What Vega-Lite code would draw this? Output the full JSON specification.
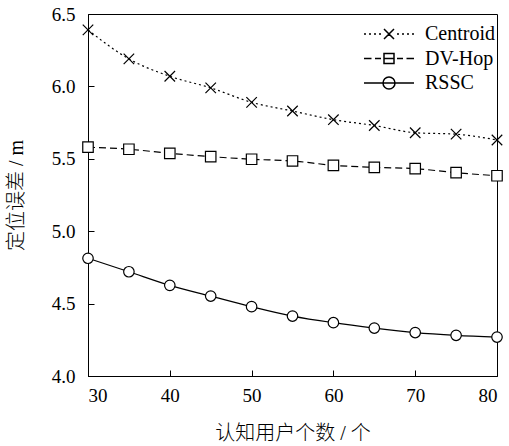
{
  "$schema": "https://vega.github.io/schema/vega-lite/v6.json",
  "autosize": {"type": "none"},
  "width": 409,
  "height": 362,
  "padding": {"left": 88, "top": 14, "right": 12, "bottom": 70},
  "background": "white",
  "config": {
    "view": {"stroke": "black", "strokeWidth": 1},
    "legend": {
      "labelFont": "Liberation Serif, Times New Roman, serif",
      "labelFontSize": 20,
      "labelColor": "black"
    }
  },
  "data": {
    "values": [
      {"n": 30, "method": "Centroid", "err": 6.39},
      {"n": 35, "method": "Centroid", "err": 6.19},
      {"n": 40, "method": "Centroid", "err": 6.07},
      {"n": 45, "method": "Centroid", "err": 5.99},
      {"n": 50, "method": "Centroid", "err": 5.89},
      {"n": 55, "method": "Centroid", "err": 5.83},
      {"n": 60, "method": "Centroid", "err": 5.77},
      {"n": 65, "method": "Centroid", "err": 5.73},
      {"n": 70, "method": "Centroid", "err": 5.68},
      {"n": 75, "method": "Centroid", "err": 5.67},
      {"n": 80, "method": "Centroid", "err": 5.63},
      {"n": 30, "method": "DV-Hop", "err": 5.58},
      {"n": 35, "method": "DV-Hop", "err": 5.566},
      {"n": 40, "method": "DV-Hop", "err": 5.538},
      {"n": 45, "method": "DV-Hop", "err": 5.515},
      {"n": 50, "method": "DV-Hop", "err": 5.497},
      {"n": 55, "method": "DV-Hop", "err": 5.485},
      {"n": 60, "method": "DV-Hop", "err": 5.455},
      {"n": 65, "method": "DV-Hop", "err": 5.441},
      {"n": 70, "method": "DV-Hop", "err": 5.432},
      {"n": 75, "method": "DV-Hop", "err": 5.404},
      {"n": 80, "method": "DV-Hop", "err": 5.383},
      {"n": 30, "method": "RSSC", "err": 4.813},
      {"n": 35, "method": "RSSC", "err": 4.72},
      {"n": 40, "method": "RSSC", "err": 4.626},
      {"n": 45, "method": "RSSC", "err": 4.552},
      {"n": 50, "method": "RSSC", "err": 4.479},
      {"n": 55, "method": "RSSC", "err": 4.414},
      {"n": 60, "method": "RSSC", "err": 4.368},
      {"n": 65, "method": "RSSC", "err": 4.331},
      {"n": 70, "method": "RSSC", "err": 4.30},
      {"n": 75, "method": "RSSC", "err": 4.281},
      {"n": 80, "method": "RSSC", "err": 4.269}
    ]
  },
  "encoding": {
    "x": {
      "field": "n",
      "type": "quantitative",
      "scale": {"domain": [30, 80], "nice": false, "zero": false},
      "axis": {
        "values": [30, 40, 50, 60, 70, 80],
        "grid": false,
        "domainColor": "black",
        "tickColor": "black",
        "tickSize": -6,
        "labelFont": "Liberation Serif",
        "labelFontSize": 19,
        "labelColor": "black",
        "labelPadding": 16,
        "title": "认知用户个数 / 个",
        "titleFont": "Liberation Serif, Noto Sans CJK SC",
        "titleFontSize": 20,
        "titleFontWeight": 300,
        "titleColor": "black",
        "titleX": 204.5,
        "titleY": 57,
        "titleBaseline": "middle",
        "titleAnchor": "middle"
      }
    },
    "y": {
      "field": "err",
      "type": "quantitative",
      "scale": {"domain": [4, 6.5], "nice": false, "zero": false},
      "axis": {
        "values": [4, 4.5, 5, 5.5, 6, 6.5],
        "format": ".1f",
        "grid": false,
        "domainColor": "black",
        "tickColor": "black",
        "tickSize": -6,
        "labelFont": "Liberation Serif",
        "labelFontSize": 19,
        "labelColor": "black",
        "labelPadding": 19,
        "title": "定位误差 / m",
        "titleFont": "Liberation Serif, Noto Sans CJK SC",
        "titleFontSize": 20,
        "titleFontWeight": 300,
        "titleColor": "black",
        "titleX": -72,
        "titleY": 181,
        "titleAngle": -90,
        "titleAlign": "center",
        "titleBaseline": "middle"
      }
    }
  },
  "resolve": {"scale": {"shape": "independent"}, "legend": {"shape": "independent"}},
  "layer": [
    {
      "transform": [{"filter": "datum.method === 'Centroid'"}],
      "mark": {"type": "line", "interpolate": "monotone", "color": "black", "strokeWidth": 1.2, "strokeDash": [2, 3]},
      "encoding": {}
    },
    {
      "transform": [{"filter": "datum.method === 'DV-Hop'"}],
      "mark": {"type": "line", "interpolate": "monotone", "color": "black", "strokeWidth": 1.2, "strokeDash": [7, 4]},
      "encoding": {}
    },
    {
      "transform": [{"filter": "datum.method === 'RSSC'"}],
      "mark": {"type": "line", "interpolate": "monotone", "color": "black", "strokeWidth": 1.2},
      "encoding": {}
    },
    {
      "mark": {"type": "point", "filled": true, "fill": "white", "stroke": "black", "strokeWidth": 1.2, "size": 110, "opacity": 1},
      "encoding": {
        "shape": {
          "field": "method",
          "type": "nominal",
          "scale": {"domain": ["Centroid", "DV-Hop", "RSSC"], "range": ["M-1,-1L1,1M-1,1L1,-1", "square", "circle"]},
          "legend": null
        }
      }
    },
    {
      "mark": {"type": "point", "filled": false, "color": "black", "strokeWidth": 1.2, "opacity": 0},
      "encoding": {
        "shape": {
          "field": "method",
          "type": "nominal",
          "scale": {
            "domain": ["Centroid", "DV-Hop", "RSSC"],
            "range": [
              "M-5,0H-4.6M-4,0H-3.6M-3,0H-2.6M-2,0H-1.6M-1,-1L1,1M-1,1L1,-1M1.6,0H2M2.6,0H3M3.6,0H4M4.6,0H5",
              "M-5,0H-3.5M-2.8,0H-1.6M-1,-1H1V1H-1ZM-1,0H1M1.6,0H2.8M3.5,0H5",
              "M-5,0H5M-1.2,0A1.2,1.2 0 1,1 1.2,0A1.2,1.2 0 1,1 -1.2,0"
            ]
          },
          "legend": {
            "title": null,
            "orient": "none",
            "legendX": 291,
            "legendY": 10,
            "rowPadding": 4.5,
            "labelOffset": 26,
            "symbolOpacity": 1
          }
        }
      }
    }
  ]
}
